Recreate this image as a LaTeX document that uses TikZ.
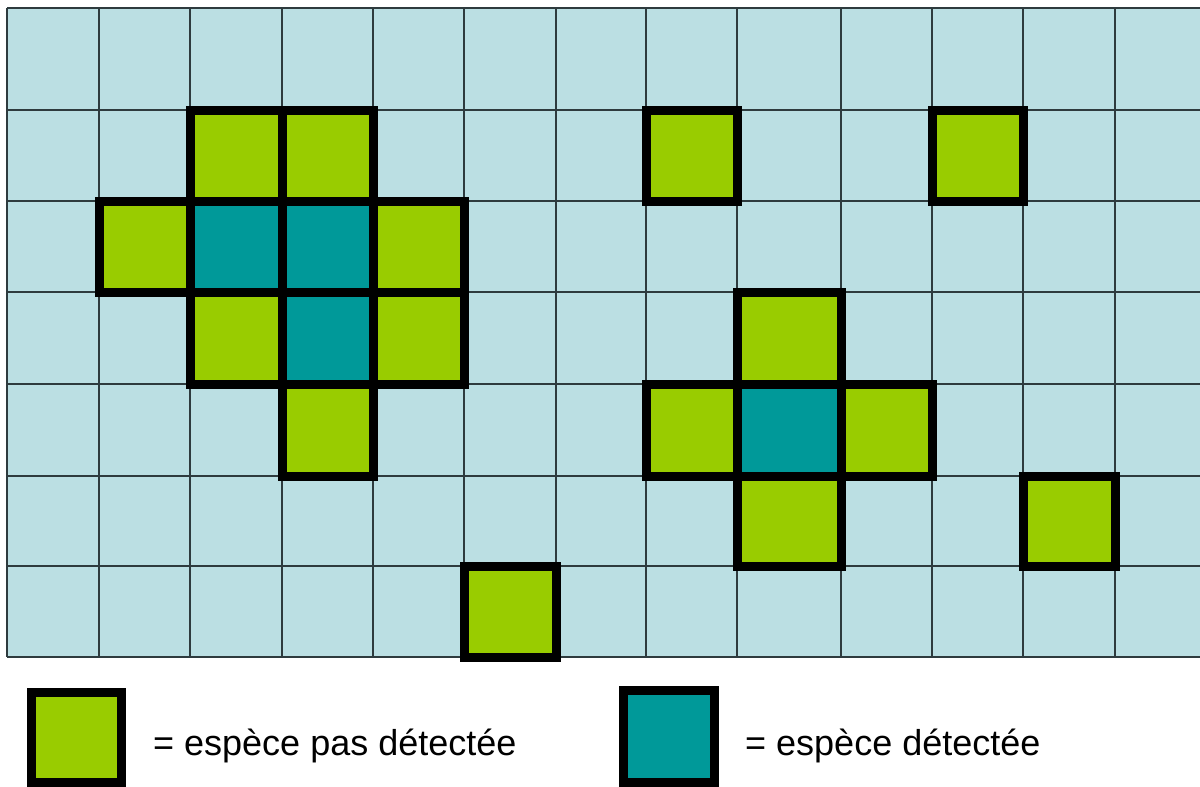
\documentclass[tikz,border=0pt]{standalone}
\usepackage{fontspec}
\setmainfont{Liberation Sans}
\usetikzlibrary{positioning}
\definecolor{gridfill}{HTML}{BBDFE3}
\definecolor{gridline}{HTML}{2E3B3E}
\definecolor{absentgreen}{HTML}{99CC00}
\definecolor{presentteal}{HTML}{009999}
\tikzset{
  gridrule/.style={draw=gridline,line width=1.4pt},
  cellbox/.style={draw=black,line width=9pt,line join=miter},
  absentcell/.style={cellbox,fill=absentgreen},
  presentcell/.style={cellbox,fill=presentteal},
  legendbox/.style={draw=black,line width=9pt},
  legendtext/.style={anchor=base west,inner sep=0pt,font=\fontsize{36}{40}\selectfont}
}

\begin{document}
\begin{tikzpicture}[x=1pt,y=-1pt]
  \useasboundingbox[fill=white] (0,0) rectangle (1200,787);
  % grid
  \fill[gridfill] (7,8) rectangle (1200,657);
  \foreach \gx in {7,99,190,282,373,464,556,646,737,841,932,1023,1115}
    \draw[gridrule] (\gx,8) -- (\gx,657);
  \foreach \gy in {8,110,201,292,384,476,566,657}
    \draw[gridrule] (7,\gy) -- (1200,\gy);
  % cells where the species was not detected
  \foreach \xa/\ya/\xb/\yb in {190/110/282/201,282/110/373/201,646/110/737/201,932/110/1023/201,
      99/201/190/292,373/201/464/292,
      190/292/282/384,373/292/464/384,737/292/841/384,
      282/384/373/476,646/384/737/476,841/384/932/476,
      737/476/841/566,1023/476/1115/566,
      464/566/556/657}
    \draw[absentcell] (\xa,\ya) rectangle (\xb,\yb);
  % cells where the species was detected
  \foreach \xa/\ya/\xb/\yb in {190/201/282/292,282/201/373/292,282/292/373/384,737/384/841/476}
    \draw[presentcell] (\xa,\ya) rectangle (\xb,\yb);
  % legend
  \draw[legendbox,fill=absentgreen] (31.5,692.5) rectangle (121.5,782.5);
  \node[legendtext] (absentlabel) at (153,755) {= espèce pas détectée};
  \draw[legendbox,fill=presentteal] (623.5,690.5) rectangle (714.5,782.5);
  \node[legendtext] (presentlabel) at (745,755) {= espèce détectée};
\end{tikzpicture}
\end{document}
